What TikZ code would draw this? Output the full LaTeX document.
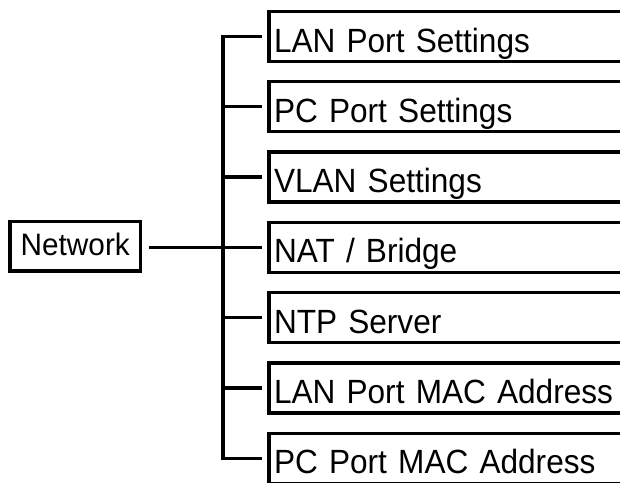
\documentclass[tikz,border=0pt]{standalone}
\usepackage{fontspec}
\setmainfont{Liberation Sans}
\newfontfamily\boxfont[FakeStretch=0.94]{Liberation Sans}
\newfontfamily\netfont[FakeStretch=0.96]{Liberation Sans}
\newcommand\itemfont{\boxfont\fontsize{33.6}{40}\selectfont\spaceskip 7.6pt plus 1pt minus 1pt\relax}
\begin{document}
\begin{tikzpicture}[x=1pt,y=-1pt,
  box/.style={draw, line width=3.3pt, outer sep=0pt, inner ysep=0pt},
  item/.style={box, anchor=north west, inner xsep=5pt, text width=343pt, align=left,
    text height=40.5pt, text depth=9.5pt, font=\itemfont},
  conn/.style={line width=3.3pt}]
\useasboundingbox (0,0) rectangle (620,482);
\begin{scope}
\clip (0,0) rectangle (620,482);
\node[box, anchor=north west, minimum width=130.5pt, inner xsep=0pt, text height=34pt, text depth=15.5pt,
  font=\netfont\fontsize{31}{36}\selectfont] (net) at (10,221.5) {Network};
\node[item] (b1) at (269,11.5) {\mbox{LAN Port Settings}};
\node[item] (b2) at (269,81.8) {\mbox{PC Port Settings}};
\node[item] (b3) at (269,152.1) {\mbox{VLAN Settings}};
\node[item] (b4) at (269,222.4) {\mbox{NAT / Bridge}};
\node[item] (b5) at (269,292.7) {\mbox{NTP Server}};
\node[item] (b6) at (269,363.0) {\mbox{LAN Port MAC Address}};
\node[item] (b7) at (269,433.3) {\mbox{PC Port MAC Address}};
\coordinate (trunk) at (223,247);
\draw[conn] ([xshift=-7pt]b1.west) -| (trunk |- b7.west) -- ([xshift=-7pt]b7.west);
\foreach \b in {b2,b3,b4,b5,b6}
  \draw[conn] (trunk |- \b.west) -- ([xshift=-7pt]\b.west);
\draw[conn] ([xshift=8pt]net.east |- b4.west) -- ([xshift=-7pt]b4.west);
\end{scope}
\end{tikzpicture}
\end{document}
